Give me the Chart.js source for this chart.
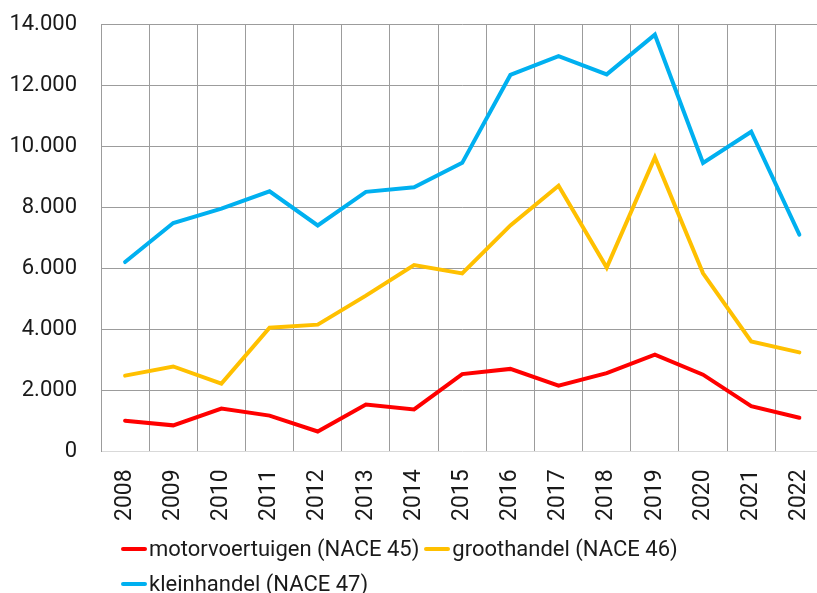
<!DOCTYPE html>
<html>
<head>
<meta charset="utf-8">
<script src="https://cdn.jsdelivr.net/npm/chart.js@4.4.1/dist/chart.umd.min.js"></script>
<style>
  html, body { margin: 0; padding: 0; background: #fff; overflow: hidden; }
  body { width: 817px; height: 593px; position: relative; font-family: Roboto, "Noto Sans", sans-serif; }
  #wrap { position: absolute; left: 0; top: 0; width: 845px; height: 545px; }
  #legend {
    position: absolute; left: 121px; top: 537px; width: 600px;
    display: flex; flex-wrap: wrap; row-gap: 11px;
    font-size: 22px; line-height: 24px; color: #1a1a1a;
  }
  .item { display: flex; align-items: center; margin-right: 5px; white-space: nowrap; }
  .swatch { display: inline-block; width: 26px; height: 4px; border-radius: 2px; margin-right: 2px; }
</style>
</head>
<body>
<div id="wrap"><canvas id="chart"></canvas></div>
<div id="legend"></div>
<script>
const years = ["2008", "2009", "2010", "2011", "2012", "2013", "2014", "2015",
  "2016", "2017", "2018", "2019", "2020", "2021", "2022"];

const motorvoertuigen = [1000, 850, 1400, 1170, 650, 1530, 1370, 2530,
  2700, 2150, 2560, 3170, 2510, 1480, 1100];
const groothandel = [2480, 2780, 2220, 4050, 4150, 5100, 6100, 5830,
  7400, 8700, 6020, 9630, 5830, 3600, 3240];
const kleinhandel = [6200, 7480, 7950, 8520, 7400, 8500, 8650, 9450,
  12330, 12950, 12350, 13650, 9450, 10470, 7100];

const yTicks = [0, 2000, 4000, 6000, 8000, 10000, 12000, 14000];

const GRID = "#9c9c9c";

function fmtThousands(v) {
  return String(v).replace(/\B(?=(\d{3})+(?!\d))/g, ".");
}

function series(label, data, color) {
  return {
    label,
    data,
    borderColor: color,
    backgroundColor: color,
    borderWidth: 4,
    pointRadius: 0,
    pointHoverRadius: 0,
    tension: 0,
    borderCapStyle: "round",
    borderJoinStyle: "miter",
    fill: false
  };
}

const datasets = [
  series("motorvoertuigen (NACE 45)", motorvoertuigen, "#ff0000"),
  series("groothandel (NACE 46)", groothandel, "#ffc000"),
  series("kleinhandel (NACE 47)", kleinhandel, "#00b0f0")
];

new Chart(document.getElementById("chart"), {
  type: "line",
  data: { labels: years, datasets },
  options: {
    responsive: true,
    maintainAspectRatio: false,
    animation: false,
    layout: { padding: { top: 24, right: 1, bottom: 6, left: 0 } },
    plugins: {
      legend: { display: false },
      tooltip: { enabled: false }
    },
    scales: {
      x: {
        offset: true,
        grid: { offset: true, color: GRID, lineWidth: 1, drawTicks: false },
        border: { display: true, color: "#d9d9d9", width: 1 },
        ticks: {
          color: "#1a1a1a",
          font: { family: "Roboto", size: 23 },
          minRotation: 90,
          maxRotation: 90,
          padding: 18,
          autoSkip: false
        }
      },
      y: {
        min: 0,
        max: 14000,
        afterFit(scale) {
          scale.width = 101;
          scale.paddingTop = 0;
          scale.paddingBottom = 0;
        },
        afterBuildTicks(scale) { scale.ticks = yTicks.map((v) => ({ value: v })); },
        grid: {
          color: (ctx) => (ctx.tick && ctx.tick.value === 0 ? "rgba(0,0,0,0)" : GRID),
          lineWidth: 1,
          drawTicks: false
        },
        border: { display: true, color: GRID, width: 1 },
        ticks: {
          color: "#1a1a1a",
          font: { family: "Roboto", size: 22 },
          padding: 24,
          callback: (v) => fmtThousands(v)
        }
      }
    }
  }
});

// legend below the chart, built from the datasets
document.getElementById("legend").innerHTML = datasets
  .map((d) => `<span class="item"><span class="swatch" style="background:${d.borderColor}"></span>${d.label}</span>`)
  .join("");
</script>
</body>
</html>
